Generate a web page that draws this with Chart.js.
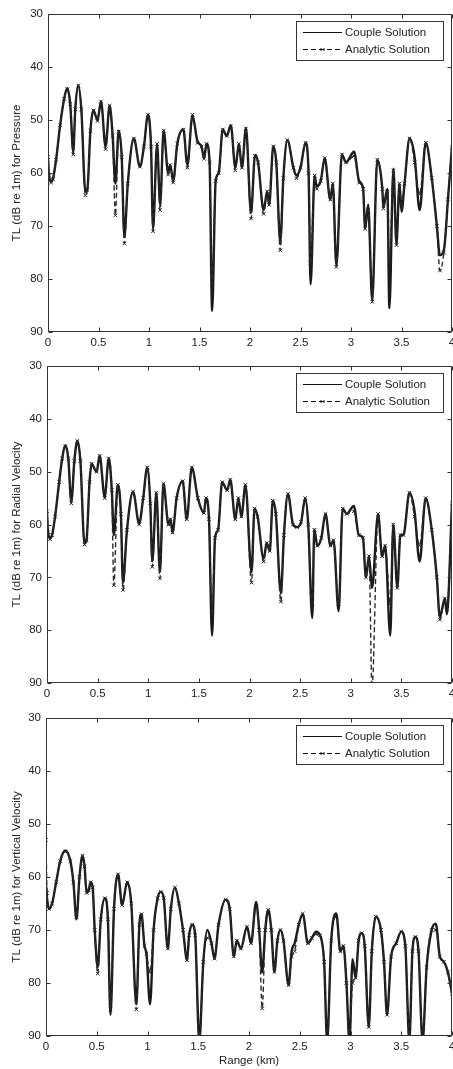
<!DOCTYPE html>
<html><head><meta charset="utf-8">
<script src="https://cdn.jsdelivr.net/npm/chart.js@4.4.1/dist/chart.umd.min.js"></script>
<style>
html,body{margin:0;padding:0;background:#fff;overflow:hidden;width:453px;height:1069px;position:relative}
.p{position:absolute;left:0}
canvas{display:block}
</style></head><body>
<div class="p" style="top:0"><canvas id="c1" width="470" height="350" style="width:470px;height:350px"></canvas></div>
<div class="p" style="top:350px"><canvas id="c2" width="470" height="350" style="width:470px;height:350px"></canvas></div>
<div class="p" style="top:700px"><canvas id="c3" width="470" height="369" style="width:470px;height:369px"></canvas></div>
<script>
// ---------- DATA ----------
const seriesNames = ["Couple Solution", "Analytic Solution"];
const rangeTicks = [0, 0.5, 1, 1.5, 2, 2.5, 3, 3.5, 4];
const tlTicks = [30, 40, 50, 60, 70, 80, 90];
const xTitle = "Range (km)";
const yTitles = ["TL (dB re 1m) for Pressure", "TL (dB re 1m) for Radial Velocity", "TL (dB re 1m) for Vertical Velocity"];

const rangeP = [0.00,0.01,0.03,0.05,0.08,0.12,0.16,0.19,0.22,0.25,0.27,0.30,0.33,0.37,0.39,0.42,0.45,0.49,0.525,0.57,0.61,0.64,0.667,0.70,0.73,0.756,0.79,0.85,0.91,0.95,0.99,1.02,1.04,1.08,1.11,1.145,1.19,1.21,1.24,1.28,1.34,1.38,1.43,1.48,1.52,1.545,1.57,1.60,1.625,1.66,1.69,1.73,1.77,1.81,1.855,1.89,1.92,1.96,2.01,2.05,2.08,2.135,2.17,2.19,2.23,2.26,2.30,2.33,2.37,2.43,2.46,2.50,2.55,2.58,2.60,2.64,2.66,2.70,2.74,2.795,2.82,2.855,2.91,2.95,3.03,3.08,3.12,3.14,3.17,3.21,3.26,3.31,3.32,3.36,3.38,3.42,3.45,3.48,3.50,3.53,3.58,3.63,3.68,3.74,3.80,3.85,3.88,3.92,3.96,4.00];
const coupleP = [57,60.5,61.5,61,57.5,51,46,44,47,56,48,43.5,48,63.5,63,52,48.2,50,46.5,55,47.3,53,62,52,57,72,62,53.5,58.8,55,49,55,70.5,54.5,66,52,60,58.5,61.5,54.5,51.8,58.5,49.2,54,55,57.2,54.5,58,86,61.5,60,51.8,53,51,59,54.5,59,51.5,67.5,56.6,58,67,63.5,66,55,58,73,61,53.8,59,60.5,59,54.3,60,81,60.5,62.5,61.5,57.2,65,62,77.5,56.5,58,56,61.5,63,70.5,66,84,57.5,63,66.5,63,85.5,59.2,73.5,62,67.3,62,53.5,57,67,54.3,61,70,75.5,74.5,65,55];
const analyticP = [57,60.5,61.8,61.2,57.5,51,46,44.2,47,56.5,48,43.5,48,64.2,63.2,52,48.2,50.2,46.5,55.5,47.3,53,68,52.2,57,73.3,62,53.5,58.8,55,49,55,71,54.5,67,52,60.3,58.5,61.8,54.5,51.8,59,49,54.3,55,57.3,54.5,58,81,61.5,60,51.8,53,51.2,59.5,54.5,59,51.6,68.6,56.8,58,67.7,63.5,66,55,58,74.6,61,53.8,59,61,59,54.3,60,77,60.5,63,61.5,57.2,65,62,77.7,56.5,58,56.8,61.8,63,70.5,67,84.3,57.5,63,66.7,63.5,77,59.5,73.6,62,66,62,53.5,58,64,54.3,61,70,78.4,75,65,55.2];

const rangeR = [0.00,0.01,0.03,0.05,0.08,0.12,0.15,0.18,0.21,0.24,0.27,0.30,0.33,0.37,0.39,0.42,0.44,0.49,0.52,0.57,0.61,0.64,0.66,0.70,0.73,0.75,0.79,0.85,0.91,0.95,0.99,1.02,1.04,1.08,1.115,1.15,1.20,1.22,1.24,1.28,1.34,1.38,1.43,1.49,1.55,1.57,1.60,1.63,1.66,1.69,1.73,1.78,1.81,1.86,1.89,1.92,1.96,2.02,2.05,2.08,2.14,2.17,2.20,2.23,2.26,2.31,2.34,2.38,2.43,2.47,2.51,2.55,2.58,2.62,2.64,2.67,2.71,2.75,2.80,2.83,2.88,2.92,2.96,3.03,3.08,3.12,3.15,3.18,3.21,3.27,3.31,3.34,3.39,3.42,3.46,3.49,3.52,3.58,3.63,3.68,3.74,3.80,3.85,3.88,3.93,3.95,4.00];
const coupleR = [57.5,61.5,62.5,62,58.5,52,47.5,45,47.5,55.7,48,44.2,48,63.5,63,52,48.5,50,47,54.8,47.5,53.5,62,52.5,58,71,61,53.8,59.8,55,49.2,56,67,54,69,52.3,60,59,61.5,55,51.8,59,49.2,55,57.8,55,59,81,62.5,61,52,53.5,51.5,59,55,58.5,52.5,69,57,58.5,66.5,63.5,65,55.5,58,73,62,54.2,60,60.5,59.5,55,60,77.7,61,64,62.5,58,64,63,76.4,57,58,56.5,62,62.5,70,66,72,58,66,64,81,60,72,62,62,54,57.5,67,55,61,70,77.5,74,77,56];
const analyticR = [57.5,61.5,62.8,62,58.5,52,47.5,45.2,47.5,56,48,44.2,48,63.8,63,52,48.5,50,47,55,47.5,53.5,71.5,52.5,58,72.4,61,53.8,60,55,49.2,56,68,54,70.2,52.3,60,59,61.5,55,51.8,59,49.2,55,57.8,55,59,77,62.5,61,52,53.5,51.5,59,55,58.5,52.5,71,57,58.5,67,63.5,65,55.5,58,74.6,62,54.2,60,60.5,59.5,55,60,75,61,64,62.5,58,64,63,75,57,58,57.5,62,62.5,70,66,91,58,66,64,75,60,72,62,62,54,58.5,64,55,61,70,78,74,76,56];

const rangeV = [0.00,0.01,0.03,0.06,0.10,0.14,0.19,0.24,0.27,0.30,0.33,0.36,0.38,0.40,0.42,0.44,0.46,0.48,0.51,0.54,0.58,0.61,0.635,0.67,0.71,0.75,0.80,0.84,0.89,0.92,0.94,0.97,0.99,1.025,1.06,1.10,1.13,1.16,1.20,1.23,1.27,1.31,1.35,1.39,1.41,1.44,1.47,1.51,1.55,1.59,1.63,1.66,1.70,1.77,1.81,1.85,1.88,1.92,1.98,2.02,2.07,2.10,2.13,2.16,2.19,2.22,2.25,2.28,2.31,2.34,2.39,2.42,2.45,2.49,2.53,2.58,2.62,2.66,2.70,2.74,2.77,2.81,2.86,2.90,2.93,2.96,2.99,3.02,3.05,3.08,3.11,3.14,3.18,3.21,3.25,3.30,3.33,3.36,3.40,3.45,3.50,3.54,3.58,3.61,3.64,3.67,3.71,3.75,3.80,3.84,3.88,3.92,3.96,4.00];
const coupleV = [61.5,64,66,65,61,57,55,57,61,68,60,56,58,63,62.5,61,62,70,77,68,64,68,86,66,59.5,65.3,61,65,84,69,67,73,74.5,84,70,64,62.8,64,73.5,66,62,65,70,75.7,71,69,71,91,76,70,72.5,75.4,69,64.3,66,75,72,73.5,69.4,72.5,64.7,70,78,70,66.2,70,77.9,72,70,72,80.4,74,72.5,69,67,72.5,71.5,70.3,71,76,91,72,66.9,74,73,80,91,75.5,79,72,70.6,73,88.3,74,67.5,70,76,86,75,72.5,70.3,73,91,74,71.3,74,91,77,70,68.8,75,76,78,82];
const analyticV = [53,63,66,65,61,57,55.2,57,61,67.5,60,56,58,63,62.5,61,62,70,78.2,68,64,68,85,66,59.5,65.3,61,65,85,69,67,73,74.5,78,70,64,62.8,64,73.5,66,62,65,70,75.7,71,69,71,91,76,71.5,72.5,75.4,69,64.3,66,75,72,73.5,69.4,72.5,65.5,70,84.8,70,66.2,70,77.9,72,70,72,80.4,75,74,69,66.9,72.5,71.5,70.8,71,76,91,72,67.5,74,73,80,91,80,79,72,70.6,73,88.3,74,67.5,70,76,86,75,72.5,70.3,73,91,74,71.3,74,91,77,70,70,75,76,78,82];

// ---------- DRAWING ----------
const FONT = "'Liberation Sans', Arial, sans-serif";
const TXT = "#222";

const framePlugin = {
  id: 'frame',
  afterDraw(chart) {
    const ctx = chart.ctx, a = chart.chartArea;
    const xs = chart.scales.x, ys = chart.scales.y;
    ctx.save();
    ctx.strokeStyle = "#333";
    ctx.lineWidth = 1;
    ctx.beginPath();
    const L = Math.round(a.left) + 0.5, R = Math.round(a.right) - 0.5, T = Math.round(a.top) + 0.5, B = Math.round(a.bottom) - 0.5;
    ctx.rect(L, T, R - L, B - T);
    const tl = 4;
    rangeTicks.forEach(v => {
      const px = Math.round(xs.getPixelForValue(v)) + 0.5;
      ctx.moveTo(px, B); ctx.lineTo(px, B - tl);
      ctx.moveTo(px, T); ctx.lineTo(px, T + tl);
    });
    tlTicks.forEach(v => {
      const py = Math.round(ys.getPixelForValue(v)) + 0.5;
      ctx.moveTo(L, py); ctx.lineTo(L + tl, py);
      ctx.moveTo(R, py); ctx.lineTo(R - tl, py);
    });
    ctx.stroke();
    // legend box
    const lw = 147, lh = 39;
    const lx = Math.round(a.right) - 9 - lw, ly = Math.round(a.top) + 7;
    ctx.fillStyle = "#fff";
    ctx.fillRect(lx, ly, lw, lh);
    ctx.strokeStyle = "#333";
    ctx.strokeRect(lx + 0.5, ly + 0.5, lw, lh);
    const ds = chart.data.datasets;
    const rows = [ly + 11.5, ly + 28.5];
    ds.forEach((d, i) => {
      const yy = rows[i];
      ctx.beginPath();
      ctx.strokeStyle = "#111";
      ctx.lineWidth = 1;
      ctx.setLineDash(d.borderDash || []);
      ctx.moveTo(lx + 7, yy); ctx.lineTo(lx + 46, yy);
      ctx.stroke();
      ctx.setLineDash([]);
      if (d.pointRadius > 0) {
        ctx.beginPath();
        const cx = lx + 26.5;
        ctx.moveTo(cx - 2, yy - 1); ctx.lineTo(cx + 2, yy + 1);
        ctx.moveTo(cx - 2, yy + 1); ctx.lineTo(cx + 2, yy - 1);
        ctx.moveTo(cx - 2, yy); ctx.lineTo(cx + 2, yy);
        ctx.stroke();
      }
      ctx.fillStyle = TXT;
      ctx.font = "11.5px " + FONT;
      ctx.textBaseline = "middle";
      ctx.textAlign = "left";
      ctx.fillText(d.label, lx + 49, yy + 0.5);
    });
    ctx.restore();
  }
};

function makePanel(id, range, couple, analytic, yTitle, geo) {
  const toXY = (xs, ys) => xs.map((x, i) => ({x: x, y: ys[i]}));
  new Chart(document.getElementById(id), {
    type: 'line',
    data: {
      datasets: [
        {label: seriesNames[0], data: toXY(range, couple), borderColor: '#1a1a1a', borderWidth: 2.4, pointRadius: 0,
         cubicInterpolationMode: 'monotone', order: 2},
        {label: seriesNames[1], data: toXY(range, analytic), borderColor: '#2a2a2a', borderWidth: 1.4, borderDash: [5, 3],
         pointStyle: 'crossRot', pointRadius: 2.5, pointBorderWidth: 1, pointBorderColor: '#222',
         cubicInterpolationMode: 'monotone', order: 1}
      ]
    },
    options: {
      responsive: false, animation: false, devicePixelRatio: 1,
      layout: {padding: {left: 0, right: 470 - 452, top: geo.top, bottom: 0}},
      plugins: {legend: {display: false}, tooltip: {enabled: false}},
      scales: {
        x: {
          type: 'linear', min: 0, max: 4,
          grid: {display: false, drawTicks: false}, border: {display: false},
          afterBuildTicks: s => { s.ticks = rangeTicks.map(v => ({value: v})); },
          ticks: {color: TXT, font: {family: FONT, size: 11.5}, padding: 4, maxRotation: 0, autoSkip: false,
                  callback: v => String(v)},
          title: geo.xTitle ? {display: true, text: xTitle, color: TXT, font: {family: FONT, size: 11.5}, padding: {top: 0, bottom: 1}} : {display: false},
          afterFit: s => { s.height = geo.xh; s.paddingLeft = 0; s.paddingRight = 0; }
        },
        y: {
          type: 'linear', min: 30, max: 90, reverse: true,
          grid: {display: false, drawTicks: false}, border: {display: false},
          afterBuildTicks: s => { s.ticks = tlTicks.map(v => ({value: v})); },
          ticks: {color: TXT, font: {family: FONT, size: 11.5}, padding: 5, callback: v => String(v)},
          title: {display: true, text: yTitle, color: TXT, font: {family: FONT, size: 11.5}, padding: {top: 10, bottom: 0}},
          afterFit: s => { s.width = geo.yw; s.paddingTop = 0; s.paddingBottom = 0; }
        }
      }
    },
    plugins: [framePlugin]
  });
}

makePanel('c1', rangeP, coupleP, analyticP, yTitles[0], {top: 14, xh: 18, yw: 48});
makePanel('c2', rangeR, coupleR, analyticR, yTitles[1], {top: 16, xh: 17, yw: 47});
makePanel('c3', rangeV, coupleV, analyticV, yTitles[2], {top: 18, xh: 33, yw: 46, xTitle: true});
</script>
</body></html>
